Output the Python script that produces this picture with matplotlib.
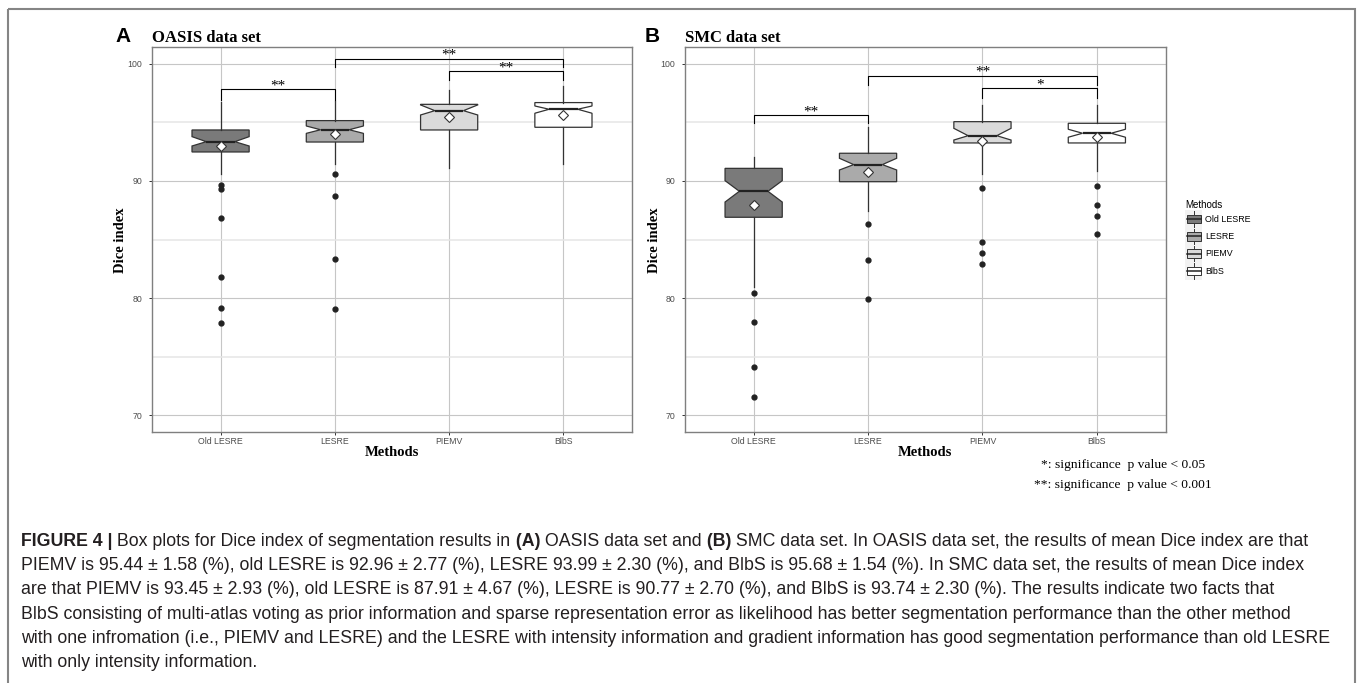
import matplotlib
matplotlib.use("Agg")
from matplotlib import pyplot as plt
from matplotlib.patches import Rectangle, Patch
from matplotlib.lines import Line2D
from matplotlib.legend_handler import HandlerBase

plt.rcParams['font.family'] = 'sans-serif'
plt.rcParams['font.sans-serif'] = ['Liberation Sans', 'DejaVu Sans']

methods = ["Old LESRE", "LESRE", "PIEMV", "BlbS"]
fills = ["#7a7a7a", "#aaaaaa", "#dadada", "#ffffff"]

# A: OASIS data set (box statistics)
oasis_q1 = [92.48, 93.33, 94.36, 94.59]
oasis_med = [93.36, 94.38, 96.01, 96.13]
oasis_q3 = [94.36, 95.16, 96.55, 96.70]
oasis_cilo = [92.99, 94.07, 95.64, 95.79]
oasis_cihi = [93.79, 94.70, 96.50, 96.41]
oasis_wlo = [90.57, 91.45, 91.14, 91.48]
oasis_whi = [96.78, 96.85, 97.78, 98.15]
oasis_mean = [92.96, 93.99, 95.44, 95.68]
oasis_out = [[89.7, 89.3, 86.8, 81.77, 79.17, 77.86],
             [90.6, 88.69, 83.36, 79.09], [], []]
# (from, to, bracket height, tick end, label)
oasis_sig = [(1, 2, 97.84, 96.92, "**"), (2, 4, 100.43, 99.71, "**"),
             (3, 4, 99.37, 98.63, "**")]

# B: SMC data set
smc_q1 = [86.90, 89.94, 93.25, 93.25]
smc_med = [89.12, 91.40, 93.87, 94.08]
smc_q3 = [91.08, 92.37, 95.07, 94.93]
smc_cilo = [88.20, 90.94, 93.50, 93.74]
smc_cihi = [90.03, 91.94, 94.50, 94.42]
smc_wlo = [80.97, 87.46, 90.57, 90.85]
smc_whi = [92.08, 94.60, 96.50, 96.50]
smc_mean = [87.91, 90.77, 93.45, 93.74]
smc_out = [[80.43, 77.95, 74.1, 71.54], [86.3, 83.25, 79.91],
           [89.4, 84.76, 83.87, 82.9], [89.55, 87.92, 86.98, 85.47]]
smc_sig = [(1, 2, 95.61, 94.93, "**"), (2, 4, 98.97, 98.20, "**"),
           (3, 4, 97.92, 97.07, "*")]

caption = [
    [("FIGURE 4 |", True), (" Box plots for Dice index of segmentation results in", False),
     (" (A)", True), (" OASIS data set and", False), (" (B)", True),
     (" SMC data set. In OASIS data set, the results of mean Dice index are that", False)],
    [("PIEMV is 95.44 \u00b1 1.58 (%), old LESRE is 92.96 \u00b1 2.77 (%), LESRE 93.99 \u00b1 2.30 (%), "
      "and BlbS is 95.68 \u00b1 1.54 (%). In SMC data set, the results of mean Dice index", False)],
    [("are that PIEMV is 93.45 \u00b1 2.93 (%), old LESRE is 87.91 \u00b1 4.67 (%), LESRE is 90.77 \u00b1 2.70 (%), "
      "and BlbS is 93.74 \u00b1 2.30 (%). The results indicate two facts that", False)],
    [("BlbS consisting of multi-atlas voting as prior information and sparse representation error "
      "as likelihood has better segmentation performance than the other method", False)],
    [("with one infromation (i.e., PIEMV and LESRE) and the LESRE with intensity information and "
      "gradient information has good segmentation performance than old LESRE", False)],
    [("with only intensity information.", False)],
]

W, H = 1357, 683
fig = plt.figure(figsize=(W / 100, H / 100), dpi=100)
bg = fig.add_axes([0, 0, 1, 1])
bg.set_xlim(0, W)
bg.set_ylim(H, 0)
bg.axis('off')
bg.add_patch(Rectangle((7.5, 8.5), 1347, 700, fill=False, ec='#858585', lw=1.5))


def px_axes(l, t, r, b):
    return fig.add_axes([l / W, 1 - b / H, (r - l) / W, (b - t) / H])


def panel(ax, q1, med, q3, cilo, cihi, wlo, whi, mean, out, sig):
    stats = [dict(med=med[i], q1=q1[i], q3=q3[i], cilo=cilo[i], cihi=cihi[i],
                  whislo=wlo[i], whishi=whi[i], mean=mean[i], fliers=out[i],
                  label=methods[i]) for i in range(4)]
    bp = ax.bxp(stats, positions=[1, 2, 3, 4], widths=0.5, shownotches=True,
                showmeans=True, showcaps=False, patch_artist=True,
                boxprops=dict(edgecolor='#333333', linewidth=0.9),
                whiskerprops=dict(color='#333333', linewidth=0.9),
                medianprops=dict(color='#222222', linewidth=1.6),
                flierprops=dict(marker='o', markerfacecolor='#222222',
                                markeredgecolor='#222222', markersize=3.5),
                meanprops=dict(marker='D', markerfacecolor='white',
                               markeredgecolor='#333333', markersize=4.6,
                               markeredgewidth=0.8))
    for patch, c in zip(bp['boxes'], fills):
        patch.set_facecolor(c)
    for i, j, yl, yt, lab in sig:
        ax.plot([i, i, j, j], [yt, yl, yl, yt], color='black', lw=0.8)
        ax.text((i + j) / 2, yl, lab, ha='center', va='baseline',
                fontsize=11, family='Liberation Serif')
    ax.set_xlim(0.4, 4.6)
    ax.set_ylim(68.55, 101.45)
    ax.set_yticks([70, 80, 90, 100])
    ax.set_yticks([75, 85, 95], minor=True)
    ax.grid(which='major', color='#c6c6c6', lw=0.8)
    ax.grid(which='minor', axis='y', color='#e6e6e6', lw=1.1)
    ax.set_axisbelow(True)
    for s in ax.spines.values():
        s.set_color('#7f7f7f')
        s.set_linewidth(1.0)
    ax.tick_params(which='major', length=2.2, width=0.7, color='#333333',
                   labelsize=6.3, labelcolor='#4d4d4d')
    ax.tick_params(axis='x', pad=1.5)
    ax.tick_params(axis='y', pad=5)
    ax.tick_params(which='minor', length=0)


axA = px_axes(152, 47, 632, 432)
panel(axA, oasis_q1, oasis_med, oasis_q3, oasis_cilo, oasis_cihi, oasis_wlo,
      oasis_whi, oasis_mean, oasis_out, oasis_sig)
axB = px_axes(685, 47, 1165.5, 432)
panel(axB, smc_q1, smc_med, smc_q3, smc_cilo, smc_cihi, smc_wlo,
      smc_whi, smc_mean, smc_out, smc_sig)

serif = 'Liberation Serif'
for x0, letter, xt, title, xc, xm in [(115, "A", 152, "OASIS data set", 120, 392),
                                       (645, "B", 685, "SMC data set", 654, 925)]:
    bg.text(x0, 42.5, letter, fontsize=15, weight='bold', va='baseline')
    bg.text(xt, 42.5, title, fontsize=12, weight='bold', family=serif, va='baseline')
    bg.text(xc, 240, "Dice index", fontsize=10.5, weight='bold', family=serif,
            rotation=90, ha='center', va='center')
    bg.text(xm, 453, "Methods", fontsize=10.5, weight='bold', family=serif,
            ha='center', va='center')

bg.text(1123, 468, "*: significance  p value < 0.05", family=serif, fontsize=9.7,
        ha='center', va='baseline')
bg.text(1123, 488, "**: significance  p value < 0.001", family=serif, fontsize=9.7,
        ha='center', va='baseline')


class BoxKey(HandlerBase):
    def create_artists(self, legend, orig, xd, yd, w, h, fontsize, trans):
        x0, y0 = -xd, -yd
        cx = x0 + w / 2
        arts = [Rectangle((x0, y0), w, h, fc='#f2f2f2', ec='none', transform=trans),
                Line2D([cx, cx], [y0 + 0.06 * h, y0 + 0.94 * h], color='#333333',
                       lw=0.7, transform=trans),
                Rectangle((x0 + 0.1 * w, y0 + 0.25 * h), 0.8 * w, 0.5 * h,
                          fc=orig.get_facecolor(), ec='#333333', lw=0.7, transform=trans),
                Line2D([x0 + 0.1 * w, x0 + 0.9 * w], [y0 + h / 2] * 2, color='#222222',
                       lw=1.1, transform=trans)]
        return arts


handles = [Patch(facecolor=c) for c in fills]
leg = fig.legend(handles, methods, title='Methods', loc='upper left',
                 bbox_to_anchor=(1181, 196), bbox_transform=bg.transData,
                 frameon=False, fontsize=6.4, title_fontsize=7, borderpad=0,
                 handlelength=1.9, handleheight=2.62, labelspacing=0,
                 handletextpad=0.35, alignment='left',
                 handler_map={Patch: BoxKey()})

# caption, pieces chained so the bold runs sit inline
cap_size = 12.8
for k, line in enumerate(caption):
    yb = 546 + 24.2 * k
    prev = None
    for txt, bold in line:
        w = 'bold' if bold else 'normal'
        if prev is None:
            prev = bg.text(21, yb, txt, fontsize=cap_size, weight=w,
                           va='baseline', color='#231f20')
        else:
            prev = bg.annotate(txt, xy=(1, yb), xycoords=(prev, 'data'),
                               fontsize=cap_size, weight=w, va='baseline',
                               ha='left', color='#231f20')

fig.savefig('out.png', dpi=100)
